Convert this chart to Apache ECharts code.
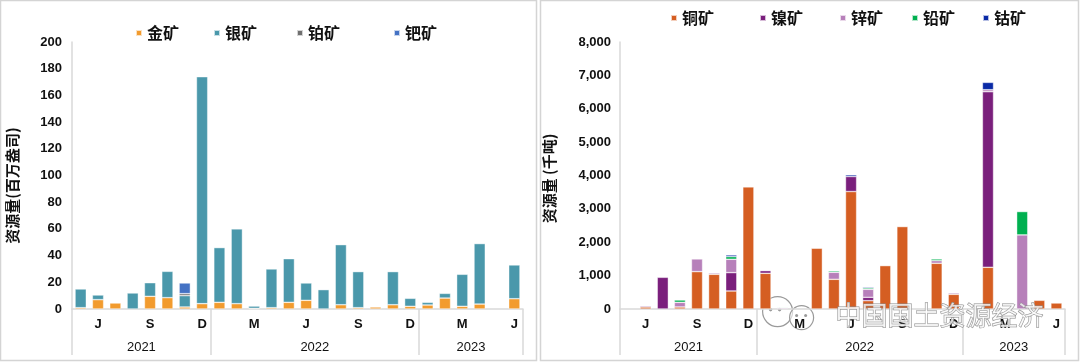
<!DOCTYPE html>
<html><head><meta charset="utf-8">
<script src="https://cdn.jsdelivr.net/npm/echarts@6/dist/echarts.min.js"></script>
<style>html,body{margin:0;padding:0;background:#fff}#c{width:1080px;height:362px}</style>
</head><body><div id="c"></div>
<script>
// ---- data (May 2021 .. Jun 2023, 26 months) ----
const monthLetters = ['M','J','J','A','S','O','N','D','J','F','M','A','M','J','J','A','S','O','N','D','J','F','M','A','M','J'];
const labelMonthIdx = [1,4,7,10,13,16,19,22,25];
const years = ['2021','2022','2023'];
const yearMonthCounts = [8,12,6];

// left chart: million ounces
const gold      = [1,7,4.5,0,9.5,8.5,1.5,4, 5,4,0.5,1,5,6.5,0,3.2,1,1.5,3.2,2, 3,8.2,2,3.7,0,7.7];
const silver    = [14,3.5,0,12,10.2,19.7,8.5,170, 41,56,1.7,29,32.7,13,14.5,45,27,0,24.8,6, 2,3.5,24,45.3,0,25.3];
const platinum  = [0,0,0,0,0,0,1.5,0, 0,0,0,0,0,0,0,0,0,0,0,0, 0,0,0,0,0,0];
const palladium = [0,0,0,0,0,0,8,0, 0,0,0,0,0,0,0,0,0,0,0,0, 0,0,0,0,0,0];

// right chart: thousand tonnes
const copper = [0,60,0,60,1120,1040,540,3660, 1070,0,0,1820,890,3520,250,1300,2470,0,1370,440, 0,1250,0,0,260,180];
const nickel = [0,30,950,0,0,30,550,0, 80,0,0,0,0,450,100,0,0,0,0,0, 0,5260,0,0,0,0];
const zinc   = [0,0,0,140,380,0,400,0, 0,30,0,0,210,0,240,0,0,0,80,40, 0,60,0,2220,0,0];
const lead   = [0,0,0,70,0,0,80,0, 0,20,0,0,40,0,40,0,0,0,50,0, 0,0,0,700,0,0];
const cobalt = [0,0,0,0,0,0,50,0, 0,0,0,0,0,50,30,0,0,0,0,0, 0,220,0,0,0,0];

const leftNames = ['金矿','银矿','铂矿','钯矿'];
const rightNames = ['铜矿','镍矿','锌矿','铅矿','钴矿'];
const leftColors = ['#F29B2E','#4A98AB','#707070','#4472C4'];
const rightColors = ['#D55E22','#7A1F7C','#B780BA','#00B050','#0A2AA6'];

// ---- derived ----
const bounds = [0]; yearMonthCounts.forEach(n => bounds.push(bounds[bounds.length-1] + n));
const centers = yearMonthCounts.map((n,i) => bounds[i] + n/2);
const nMonths = monthLetters.length;
const clean = arr => arr.map(v => v === 0 ? '-' : v);

const FONT = '"Liberation Sans", Arial, sans-serif';
const CJK = '"Noto Sans CJK SC", sans-serif';
const AXIS_GRAY = '#d9d9d9';

function monthAxis(gi) {
  return {
    type:'category', gridIndex:gi, data:monthLetters, position:'bottom',
    axisLine:{show:true, lineStyle:{color:AXIS_GRAY, width:1.5}},
    axisTick:{show:false},
    axisLabel:{interval:(i)=>labelMonthIdx.includes(i), margin:9, color:'#111', fontFamily:FONT, fontWeight:'bold', fontSize:13},
    splitLine:{show:false}
  };
}
function yearAxis(gi) {
  return {
    type:'value', gridIndex:gi, min:0, max:nMonths, position:'bottom',
    axisLine:{show:false},
    axisTick:{show:true, customValues:bounds, length:46, inside:false, lineStyle:{color:AXIS_GRAY, width:1.5}},
    axisLabel:{show:true, customValues:centers, margin:32, color:'#111', fontFamily:FONT, fontSize:13,
      formatter:(v)=>{ const k = centers.indexOf(v); return k>=0 ? years[k] : ''; }},
    splitLine:{show:false}
  };
}

const series = [];
[gold, silver, platinum, palladium].forEach((arr,i)=>{
  series.push({name:leftNames[i], type:'bar', stack:'L', xAxisIndex:0, yAxisIndex:0, data:clean(arr),
    barCategoryGap:'35%', itemStyle:{color:leftColors[i], borderColor:'rgba(255,255,255,0.7)', borderWidth:0.6}});
});
[copper, nickel, zinc, lead, cobalt].forEach((arr,i)=>{
  series.push({name:rightNames[i], type:'bar', stack:'R', xAxisIndex:2, yAxisIndex:1, data:clean(arr),
    barCategoryGap:'35%', itemStyle:{color:rightColors[i], borderColor:'rgba(255,255,255,0.7)', borderWidth:0.6}});
});

const legendLeftPos = [130, 208, 291, 388];
const legendRightPos = [665, 754, 834, 906, 977];
const legends = [];
leftNames.forEach((n,i)=>legends.push({data:[n], left:legendLeftPos[i], top:20, icon:'rect', itemWidth:6, itemHeight:6, itemGap:0,
  textStyle:{fontFamily:CJK, fontWeight:'bold', fontSize:16, color:'#111'}}));
rightNames.forEach((n,i)=>legends.push({data:[n], left:legendRightPos[i], top:5, icon:'rect', itemWidth:6, itemHeight:6, itemGap:0,
  textStyle:{fontFamily:CJK, fontWeight:'bold', fontSize:16, color:'#111'}}));

const chart = echarts.init(document.getElementById('c'), null, {renderer:'canvas'});
chart.setOption({
  animation:false,
  backgroundColor:'#fff',
  legend: legends,
  grid:[{left:72, top:42, width:451, height:267}, {left:620, top:42, width:445, height:267}],
  xAxis:[monthAxis(0), yearAxis(0), monthAxis(1), yearAxis(1)],
  yAxis:[
    {type:'value', gridIndex:0, min:0, max:200, interval:20,
      name:'资源量(百万盎司)', nameLocation:'middle', nameGap:52, nameRotate:90,
      nameTextStyle:{fontFamily:CJK, fontWeight:'bold', fontSize:15, color:'#111', padding:[0,0,0,-20]},
      axisLine:{show:true, lineStyle:{color:AXIS_GRAY, width:1.5}}, axisTick:{show:false}, splitLine:{show:false},
      axisLabel:{margin:10, color:'#111', fontFamily:FONT, fontWeight:'bold', fontSize:13}},
    {type:'value', gridIndex:1, min:0, max:8000, interval:1000,
      name:'资源量 (千吨)', nameLocation:'middle', nameGap:63, nameRotate:90,
      nameTextStyle:{fontFamily:CJK, fontWeight:'bold', fontSize:15, color:'#111', padding:[0,0,0,-6]},
      axisLine:{show:true, lineStyle:{color:AXIS_GRAY, width:1.5}}, axisTick:{show:false}, splitLine:{show:false},
      axisLabel:{margin:9, color:'#111', fontFamily:FONT, fontWeight:'bold', fontSize:13,
        formatter:(v)=>v.toLocaleString('en-US')}}
  ],
  series: series,
  graphic:[
    {type:'rect', shape:{x:0.5, y:0.5, width:536, height:360}, style:{fill:'none', stroke:'#d4d4d4', lineWidth:1.5}, z:-1},
    {type:'rect', shape:{x:540.5, y:0.5, width:538, height:360}, style:{fill:'none', stroke:'#d4d4d4', lineWidth:1.5}, z:-1},
    {type:'group', left:762, top:296, z:100, children:[
      {type:'circle', shape:{cx:20, cy:18, r:15}, style:{fill:'rgba(255,255,255,0.6)', stroke:'#9a9a9a', lineWidth:1.2}},
      {type:'circle', shape:{cx:13, cy:16, r:1.8}, style:{fill:'#9a9a9a'}},
      {type:'circle', shape:{cx:22, cy:16, r:1.8}, style:{fill:'#9a9a9a'}},
      {type:'circle', shape:{cx:44, cy:24, r:12}, style:{fill:'rgba(255,255,255,0.6)', stroke:'#9a9a9a', lineWidth:1.2}},
      {type:'circle', shape:{cx:39, cy:22, r:1.5}, style:{fill:'#9a9a9a'}},
      {type:'circle', shape:{cx:48, cy:22, r:1.5}, style:{fill:'#9a9a9a'}}
    ]},
    {type:'text', left:835, top:302, z:100, style:{text:'中国国土资源经济', font:'26px "Noto Sans CJK SC"', fill:'rgba(255,255,255,0.75)', stroke:'#8c8c8c', lineWidth:1}}
  ]
});
</script>
</body></html>
